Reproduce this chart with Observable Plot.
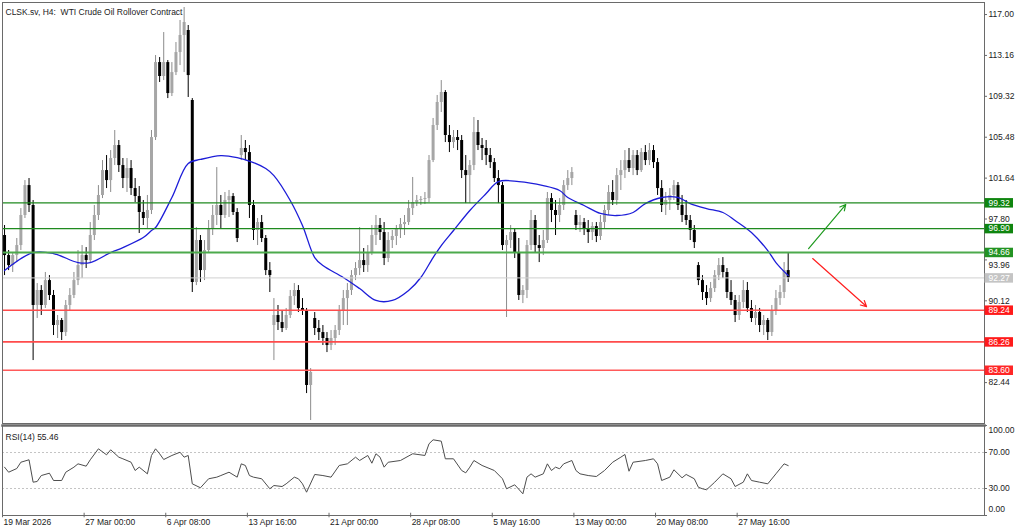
<!DOCTYPE html>
<html><head><meta charset="utf-8">
<script src="https://cdn.jsdelivr.net/npm/d3@7"></script>
<script src="https://cdn.jsdelivr.net/npm/@observablehq/plot@0.6"></script>
<style>
html,body{margin:0;padding:0;background:#fff;}
#chart{position:relative;width:1024px;height:532px;overflow:hidden;background:#fff;}
#chart svg{position:absolute;left:0;}
</style></head><body><div id="chart"></div>
<script>
// ---------- data ----------
const title = "CLSK.sv, H4:\u00a0 WTI Crude Oil Rollover Contract";
const opens = [96.25,94.37,93.43,94.37,95.31,98.13,100.94,99.07,89.68,91.09,
 89.68,92.02,90.62,87.80,88.27,87.14,89.68,90.62,92.02,93.43,
 94.37,93.90,96.25,98.13,100.01,102.35,101.41,103.48,104.70,102.82,
 101.60,102.54,100.66,99.91,98.41,97.85,98.60,105.45,112.49,111.18,
 112.49,109.58,111.55,113.43,115.03,115.50,108.93,91.84,95.78,92.96,
 94.84,96.91,98.13,99.07,98.13,99.54,99.91,98.41,103.76,104.42,
 104.04,99.07,96.72,97.47,95.97,92.96,87.80,88.74,88.08,87.52,
 88.74,90.52,91.09,89.40,89.21,82.17,88.46,87.52,87.14,86.58,
 85.92,86.58,87.33,89.21,90.33,91.09,92.49,93.15,93.90,93.43,
 94.65,96.25,97.19,96.53,94.09,95.78,96.16,96.91,97.28,97.47,
 98.78,99.35,99.54,99.63,99.72,103.29,106.58,108.74,109.68,105.64,
 104.98,105.45,105.17,102.35,101.88,102.82,105.92,104.70,104.42,103.76,
 103.10,101.60,100.94,95.31,95.78,96.53,94.65,90.62,91.09,95.31,
 97.66,95.31,95.03,95.78,99.72,98.60,98.13,99.07,100.94,101.60,
 98.13,97.19,97.47,96.91,96.53,97.09,96.16,97.47,98.60,100.29,
 99.54,101.88,102.35,103.29,102.54,103.76,102.35,104.04,103.29,104.23,
 103.10,100.66,99.07,99.54,100.01,100.94,99.07,98.13,97.66,96.72,
 93.43,92.02,90.90,90.33,91.27,92.49,93.43,92.78,90.90,90.15,
 88.74,89.96,91.09,89.40,88.46,89.02,87.80,88.27,87.14,89.21,
 90.33,90.90,92.96];
const highs = [97.19,94.84,94.65,95.97,98.78,101.41,101.60,99.54,91.74,91.55,
 92.78,92.49,91.09,88.74,88.46,90.15,91.27,92.78,94.84,95.31,
 95.12,97.47,99.07,100.94,103.29,103.76,104.23,106.11,105.17,103.48,
 103.48,103.29,101.60,100.85,99.54,100.01,106.11,113.15,112.96,115.31,
 112.68,112.49,114.37,116.44,117.66,115.97,109.11,97.00,96.25,95.78,
 97.66,99.07,102.63,100.01,100.29,100.48,100.19,98.78,105.64,105.17,
 104.70,99.54,97.85,98.13,96.25,93.71,90.33,89.68,89.21,89.40,
 91.09,91.74,91.55,90.33,89.40,83.76,89.02,88.27,87.80,87.14,
 87.33,87.80,89.68,91.09,91.74,92.96,93.71,97.00,95.03,95.31,
 97.19,98.13,97.85,97.47,96.53,96.72,97.19,97.85,98.13,99.54,
 101.70,100.01,99.91,100.29,103.76,107.24,109.40,110.80,109.86,106.58,
 106.11,106.11,105.64,103.76,103.29,107.33,107.05,105.36,105.17,104.42,
 103.48,102.35,101.23,96.25,97.19,96.91,95.97,91.55,95.78,98.60,
 98.13,96.25,96.72,100.29,100.19,99.54,99.72,101.41,102.35,102.63,
 98.60,98.13,97.85,97.66,97.47,97.47,98.13,99.07,100.94,101.41,
 102.54,103.29,104.23,104.42,104.23,104.23,104.42,104.70,104.89,104.70,
 103.48,101.41,100.29,100.66,101.41,101.23,100.01,99.54,98.13,97.19,
 93.71,92.49,91.55,91.84,92.96,94.09,94.18,93.15,92.02,90.62,
 90.62,92.02,91.84,90.15,89.68,89.40,88.74,88.46,89.68,91.09,
 91.55,93.71,94.65];
const lows = [92.49,92.96,92.78,93.71,94.84,97.85,98.41,84.51,88.46,88.74,
 89.40,90.15,86.86,86.58,86.39,86.77,89.21,90.33,91.55,92.21,
 93.15,93.71,95.78,97.66,99.72,100.66,100.29,102.82,102.17,100.66,
 100.29,100.01,99.35,96.44,97.19,96.91,98.22,105.17,110.62,110.80,
 109.11,109.30,111.27,112.21,111.55,109.21,90.90,91.55,91.84,92.02,
 94.65,96.25,97.19,96.91,97.85,97.94,98.13,95.59,103.29,103.29,
 97.85,95.78,95.31,95.59,92.49,90.90,84.51,87.33,87.14,87.33,
 88.46,89.68,89.02,88.74,81.41,78.88,86.86,86.39,85.92,85.26,
 85.45,85.92,86.86,87.80,87.80,90.62,92.02,92.49,92.78,92.78,
 94.37,95.31,95.78,93.43,93.71,95.03,95.31,95.97,96.25,97.19,
 98.13,98.97,99.07,99.16,99.35,103.10,106.11,107.80,104.98,104.04,
 104.42,104.23,101.60,99.25,99.25,102.35,104.23,103.29,102.82,102.54,
 101.23,99.25,94.84,88.55,95.03,94.09,90.15,89.86,90.33,94.84,
 94.65,93.71,94.37,95.50,97.47,96.25,97.47,98.60,100.48,100.94,
 96.72,96.53,96.25,95.50,95.78,95.59,95.78,96.91,98.13,99.07,
 99.07,100.48,101.60,102.17,101.88,101.88,102.17,102.82,102.82,102.54,
 100.01,98.41,98.13,98.60,99.54,98.60,97.47,97.19,95.78,95.03,
 91.55,90.15,89.68,89.96,90.90,92.02,92.21,90.33,89.68,88.08,
 88.27,89.40,89.02,88.08,87.80,87.14,86.86,86.39,86.77,88.74,
 89.68,90.33,91.84];
const closes = [94.37,93.43,94.37,95.31,98.13,100.94,99.07,89.68,91.09,89.68,
 92.02,90.62,87.80,88.27,87.14,89.68,90.62,92.02,93.43,94.37,
 93.90,96.25,98.13,100.01,102.35,101.41,103.48,104.70,102.82,101.60,
 102.54,100.66,99.91,98.41,97.85,98.60,105.45,112.49,111.18,112.49,
 109.58,111.55,113.43,115.03,116.25,111.27,91.84,95.78,92.96,94.84,
 96.91,98.13,99.07,98.13,99.54,99.91,98.41,95.97,104.42,104.04,
 99.07,96.72,97.47,95.97,92.96,92.49,88.74,88.08,87.52,88.74,
 90.52,91.09,89.40,89.21,82.17,83.39,87.52,87.14,86.58,85.92,
 86.58,87.33,89.21,90.33,91.09,92.49,93.15,93.90,93.43,94.65,
 96.25,97.19,96.53,94.09,95.78,96.16,96.91,97.28,97.47,98.78,
 99.35,99.54,99.63,99.72,103.29,106.58,108.74,109.68,105.64,104.98,
 105.45,105.17,102.35,101.88,102.82,105.92,104.70,104.42,103.76,103.10,
 101.60,100.94,95.31,95.78,96.53,94.65,90.62,91.09,95.31,97.66,
 95.31,95.03,95.78,99.72,98.60,98.13,99.07,100.94,101.60,102.17,
 97.19,97.47,96.91,96.53,97.09,96.16,97.47,98.60,100.29,99.54,
 101.88,102.35,103.29,102.54,103.76,102.35,104.04,103.29,104.23,103.10,
 100.66,99.07,99.54,100.01,100.94,99.07,98.13,97.66,96.72,95.59,
 92.02,90.90,90.33,91.27,92.49,93.43,92.78,90.90,90.15,88.74,
 89.96,91.09,89.40,88.46,89.02,87.80,88.27,87.14,89.21,90.33,
 90.90,92.96,92.27];

// moving average (read points)
const maBar = [0,7,12,18,21,26,29,34,36,37,41,45,48,53,57,61,64,66,70,73,76,78,83,87,91,95,99,102,105,107,110,114,118,121,126,132,136,138,142,146,150,154,157,161,165,168,172,176,179,183,187,189,192];
const maVal = [92.96,94.65,94.56,93.71,93.71,94.65,95.12,96.06,96.72,97.00,99.82,103.01,103.39,103.76,103.57,103.10,102.54,101.88,99.54,97.19,94.18,93.43,92.31,91.27,90.15,90.15,91.09,92.31,94.18,95.31,96.72,98.60,100.19,101.32,101.32,100.94,100.48,99.82,99.07,98.32,98.13,98.41,99.25,99.82,99.82,99.25,98.78,98.41,97.66,96.53,94.84,93.71,92.49];

// RSI(14) (read points)
const rsiBar = [0,1,3,4,6,7,8,9,11,12,14,15,17,18,20,21,23,25,26,28,29,31,32,33,35,36,37,38,39,41,43,44,45,46,48,50,52,53,55,57,58,59,60,61,63,65,66,68,69,71,72,73,74,76,78,80,82,84,86,87,89,90,91,92,93,94,97,100,103,104,105,107,108,110,112,113,114,115,117,120,122,123,125,127,128,129,130,132,133,134,135,136,137,139,140,141,143,145,147,149,151,152,153,154,157,159,160,161,163,164,166,167,169,170,171,172,174,176,178,179,181,182,183,185,187,189,190,191,192];
const rsiVal = [53.7,48.1,52.2,59.2,61.9,37.0,37.8,44.4,47.0,38.9,38.9,48.1,53.7,57.4,54.8,61.9,74.1,67.4,73.0,64.8,63.0,59.2,50.0,53.7,46.3,66.7,74.1,68.6,62.2,66.7,70.3,64.8,66.7,35.2,30.8,40.8,42.6,44.4,48.1,42.6,57.4,55.6,44.4,42.6,40.8,29.7,33.3,32.2,35.2,42.6,40.8,35.2,25.9,45.6,44.4,42.6,55.6,57.4,64.8,61.1,66.7,58.1,68.6,64.8,53.7,59.2,61.1,68.6,66.7,79.7,84.1,82.6,63.0,63.0,50.0,47.4,53.7,61.1,55.6,50.0,40.8,29.7,34.1,24.1,42.6,46.3,42.6,46.3,57.4,50.0,53.7,51.9,57.4,61.1,50.0,46.3,44.4,43.3,50.0,59.2,64.8,67.8,49.2,59.2,61.1,63.0,57.4,38.9,42.6,50.8,41.9,45.6,40.8,31.4,29.7,28.6,37.0,46.3,40.8,32.2,37.0,46.3,38.9,37.0,35.2,46.3,51.9,57.4,55.46];
const rsiLabel = "RSI(14) 55.46";
const rsiLevels = [70, 30];
const rsiTicks = [100, 70, 30, 0];

// horizontal levels
const levelValues = [99.32, 96.90, 94.66, 92.27, 89.24, 86.26, 83.60];
const priceTicks = [117.00, 113.16, 109.32, 105.48, 101.64, 97.80, 93.96, 90.12, 82.44];

// arrows (bar index, price)
const arrowBar1 = [197.0, 198.0];
const arrowPrice1 = [95.03, 94.09];
const arrowBar2 = [206.1, 211.2];
const arrowPrice2 = [99.16, 89.58];

// time axis
const dateTickBars = [0,20,40,60,80,100,120,140,160,180];
const dateLabels = ["19 Mar 2026","27 Mar 00:00","6 Apr 08:00","13 Apr 16:00","21 Apr 00:00","28 Apr 08:00","5 May 16:00","13 May 00:00","20 May 08:00","27 May 16:00"];

// ---------- styles ----------
const lineColor = ["#1f8a1f","#1f8a1f","#4caa4c","#d0d0d0","#ff4b4b","#ff4b4b","#ff5a5a"];
const boxColor  = ["#0f850f","#0f850f","#239323","#c4c4c4","#ff1a1a","#ff1a1a","#ff2626"];
const lineW     = [1.4,1.4,2,1,1.6,1.6,1.6];
const arrowColor = ["#1f9a1f","#ff1f1f"];
const FONT = "Liberation Sans, Arial, sans-serif";
const W = 1024, MR = 40, ML = 2;
const xDomain = [-0.5, 240.1];
const pxPerBar = (W - MR - ML) / (xDomain[1] - xDomain[0]);
const xEnd = xDomain[1];
const px = p => p / pxPerBar;
// axis labels that sit right under a level box are nudged down
const nearBox = d => levelValues.some(v => d < v && v - d < 1);
const ticksFree = priceTicks.filter(d => !nearBox(d));
const ticksNudged = priceTicks.filter(nearBox);

const bars = closes.map((c, i) => ({i, o: opens[i], h: highs[i], l: lows[i], c, up: c >= opens[i]}));
const ma = maBar.map((b, k) => ({b, v: maVal[k]}));
const rsi = rsiBar.map((b, k) => ({b, v: rsiVal[k]}));
const levels = levelValues.map((v, k) => ({v, k}));
const arrows = arrowBar1.map((b, k) => ({x1: b, y1: arrowPrice1[k], x2: arrowBar2[k], y2: arrowPrice2[k], k}));
const tickText = {x: xEnd, dx: 4, textAnchor: "start", text: d => d.toFixed(2), fill: "#222", fontSize: 8.5};

const main = Plot.plot({
  width: W, height: 425,
  marginTop: 2, marginBottom: 2, marginLeft: ML, marginRight: MR,
  style: {fontFamily: FONT, background: "transparent"},
  x: {domain: xDomain, axis: null},
  y: {domain: [78.60, 118.13], axis: null},
  marks: [
    Plot.ruleX(bars, {x: "i", y1: "l", y2: "h", stroke: d => d.up ? "#8c8c8c" : "#000000", strokeWidth: 1}),
    Plot.ruleX(bars, {x: "i", y1: "o", y2: d => Math.abs(d.o - d.c) < 0.08 ? d.o + 0.1 : d.c,
      stroke: d => d.up ? "#a6a6a6" : "#000000", strokeWidth: 3}),
    Plot.line(ma, {x: "b", y: "v", stroke: "#1d1dd8", strokeWidth: 1.3, curve: "catmull-rom"}),
    Plot.ruleY(levels, {y: "v", stroke: d => lineColor[d.k], strokeWidth: d => lineW[d.k]}),
    Plot.arrow(arrows, {x1: "x1", y1: "y1", x2: "x2", y2: "y2", stroke: d => arrowColor[d.k], strokeWidth: 1.2, headLength: 8, headAngle: 55}),
    Plot.frame({stroke: "#6a6a6a"}),
    Plot.ruleY(priceTicks, {y: d => d, x1: xEnd, x2: xEnd + px(3), stroke: "#6a6a6a"}),
    Plot.text(ticksFree, {...tickText, y: d => d}),
    Plot.text(ticksNudged, {...tickText, y: d => d, dy: 5}),
    Plot.ruleY(levels, {y: "v", x1: xEnd + px(0.5), x2: xEnd + px(29), stroke: d => boxColor[d.k], strokeWidth: 9.5}),
    Plot.text(levels, {y: "v", x: xEnd, dx: 4, textAnchor: "start", text: d => d.v.toFixed(2), fill: "#ffffff", fontSize: 8.5}),
    Plot.text([title], {frameAnchor: "top-left", dx: 3, dy: 6.5, textAnchor: "start", fill: "#222", fontSize: 8.5})
  ]
});
main.style.top = "0px";

const sub = Plot.plot({
  width: W, height: 109,
  marginTop: 2, marginBottom: 17, marginLeft: ML, marginRight: MR,
  style: {fontFamily: FONT, background: "transparent"},
  x: {domain: xDomain, axis: null},
  y: {domain: [0, 100], axis: null},
  marks: [
    Plot.ruleY(rsiLevels, {stroke: "#c4c4c4", strokeDasharray: "2,2"}),
    Plot.line(rsi, {x: "b", y: "v", stroke: "#4d4d4d", strokeWidth: 1}),
    Plot.frame({stroke: "#6a6a6a"}),
    Plot.frame({anchor: "top", stroke: "#6a6a6a", strokeWidth: 2.5}),
    Plot.text([rsiLabel], {frameAnchor: "top-left", dx: 3, dy: 8, textAnchor: "start", fill: "#222", fontSize: 8.5}),
    Plot.ruleY(rsiTicks, {y: d => d, x1: xEnd, x2: xEnd + px(3), stroke: "#6a6a6a"}),
    Plot.text(rsiTicks.filter(d => d > 0 && d < 100), {...tickText, y: d => d}),
    Plot.text(rsiTicks.filter(d => d >= 100), {...tickText, y: d => d, dy: 5}),
    Plot.text(rsiTicks.filter(d => d <= 0), {...tickText, y: d => d, dy: -6}),
    Plot.ruleX(dateTickBars, {x: d => d - 0.5, y1: -2.5, y2: 2.5, stroke: "#6a6a6a"}),
    Plot.text(dateLabels, {x: (d, i) => dateTickBars[i] - 0.5, frameAnchor: "bottom", dy: 9, dx: 1, textAnchor: "start", fill: "#222", fontSize: 8.5})
  ]
});
sub.style.top = "423px";

const chart = document.getElementById("chart");
chart.appendChild(main);
chart.appendChild(sub);
</script>
</body></html>
